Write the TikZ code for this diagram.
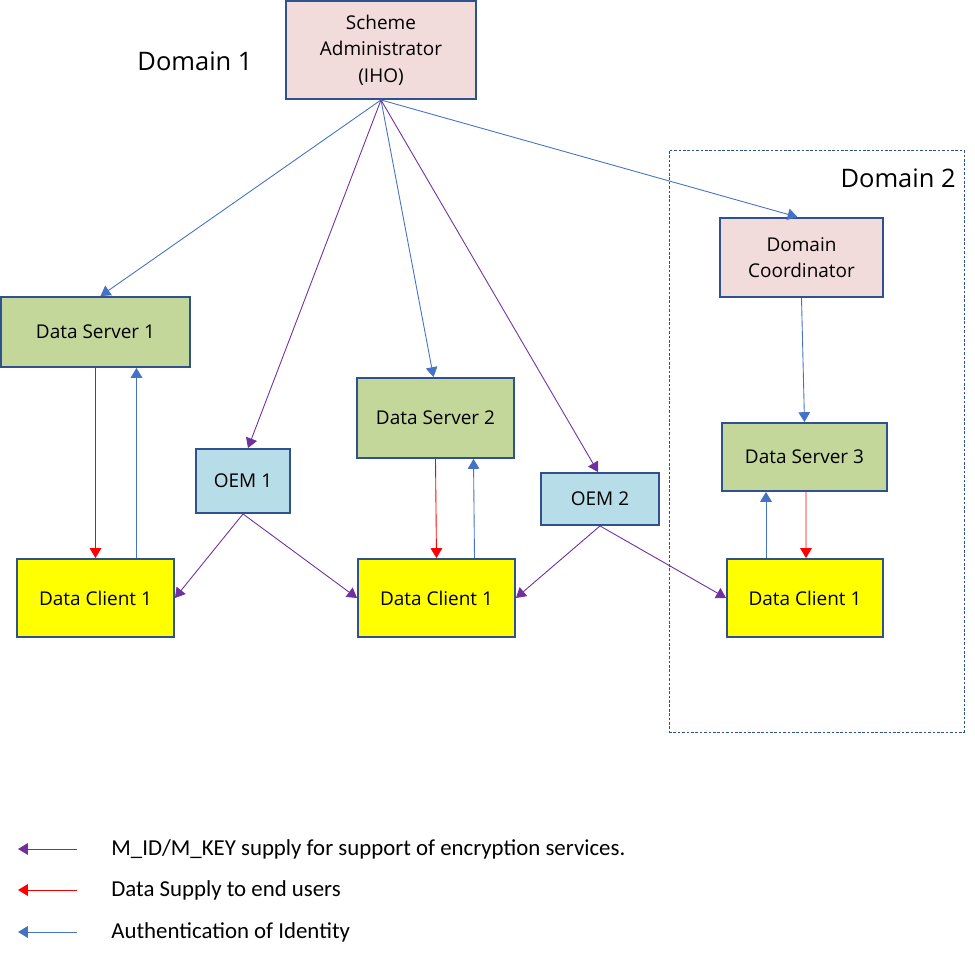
\documentclass[tikz,border=0pt]{standalone}
\usepackage{fontspec}
\setmainfont{Open Sans}
\newfontfamily\legendfont{Carlito}
\usetikzlibrary{arrows.meta}
\usetikzlibrary{calc}

\begin{document}
\begin{tikzpicture}[x=0.02cm,y=-0.02cm,
    box/.style={
      draw=boxline,
      line width=1.1pt,
      align=center,
      inner sep=0pt,
      font=\fontsize{10.8}{15}\selectfont
    },
    legend/.style={anchor=west,inner sep=0pt,font=\legendfont\fontsize{13}{15}\selectfont},
    auth/.style={-{Triangle[width=6.6pt,length=5.6pt]},line width=0.5pt,authblue},
    supply/.style={-{Triangle[width=6.6pt,length=5.6pt]},line width=0.5pt,supplyred},
    mkey/.style={-{Triangle[width=6.6pt,length=5.6pt]},line width=0.5pt,mkeypurple}]

\definecolor{boxline}{RGB}{47,82,143}
\definecolor{lpink}{RGB}{242,220,219}
\definecolor{lgreen}{RGB}{196,215,155}
\definecolor{lblue}{RGB}{183,221,232}
\definecolor{lyellow}{RGB}{255,255,0}
\definecolor{authblue}{RGB}{68,114,196}
\definecolor{supplyred}{RGB}{255,0,0}
\definecolor{mkeypurple}{RGB}{112,48,160}

\useasboundingbox (0,0) rectangle (975,959);

% domain 2 frame
\node[draw=boxline,dashed,dash pattern=on 1.5pt off 1pt,line width=0.5pt,minimum width=5.9cm,minimum height=11.64cm] (dom2) at (816.5,441) {};
\node[font=\fontsize{14.5}{16}\selectfont,inner sep=0pt,anchor=east] (d2lbl) at (956,178) {Domain 2};
\node[font=\fontsize{14.5}{16}\selectfont,inner sep=0pt] (d1lbl) at (195,61) {Domain 1};

\node[box,fill=lpink,minimum width=3.8cm,minimum height=1.96cm] (sa) at (381,50) {Scheme\\Administrator\\(IHO)};
\node[box,fill=lpink,minimum width=3.26cm,minimum height=1.58cm] (dc) at (801.5,257.5) {Domain\\Coordinator};

\node[box,fill=lgreen,minimum width=3.78cm,minimum height=1.4cm] (ds1) at (95.5,332) {Data Server 1};
\node[box,fill=lgreen,minimum width=3.14cm,minimum height=1.6cm] (ds2) at (435.5,418) {Data Server 2};
\node[box,fill=lgreen,minimum width=3.3cm,minimum height=1.36cm] (ds3) at (804.5,457) {Data Server 3};

\node[box,fill=lblue,minimum width=1.88cm,minimum height=1.28cm] (oem1) at (243,481) {OEM 1};
\node[box,fill=lblue,minimum width=2.36cm,minimum height=1.04cm] (oem2) at (600,499) {OEM 2};

\node[box,fill=lyellow,minimum width=3.14cm,minimum height=1.56cm] (cl1) at (95.5,598) {Data Client 1};
\node[box,fill=lyellow,minimum width=3.14cm,minimum height=1.56cm] (cl2) at (436.5,598) {Data Client 1};
\node[box,fill=lyellow,minimum width=3.12cm,minimum height=1.56cm] (cl3) at (805,598) {Data Client 1};

\draw[auth] (sa.south) -- ($(ds1.north)+(5,0)$);
\draw[mkey] (sa.south) -- ($(oem1.north)+(5,0)$);
\draw[auth] (sa.south) -- ($(ds2.north)+(-2,0)$);
\draw[mkey] (sa.south) -- ($(oem2.north)+(-2,0)$);
\draw[auth] (sa.south) -- ($(dc.north)+(-4,0)$);
\draw[auth] (dc.south) -- (ds3.north);

\draw[supply] (ds1.south) -- (cl1.north);
\draw[auth] ($(cl1.north)+(41,0)$) -- ($(ds1.south)+(41,0)$);
\draw[supply] (ds2.south) -- (cl2.north);
\draw[auth] ($(cl2.north)+(38,0)$) -- ($(ds2.south)+(38,0)$);
\draw[supply] ($(ds3.south)+(1.5,0)$) -- ($(cl3.north)+(1,0)$);
\draw[auth] ($(cl3.north)+(-39,0)$) -- ($(ds3.south)+(-38.5,0)$);

\draw[mkey] (oem1.south) -- (cl1.east);
\draw[mkey] (oem1.south) -- (cl2.west);
\draw[mkey] (oem2.south) -- (cl2.east);
\draw[mkey] (oem2.south) -- (cl3.west);

% legend
\node[legend] (lt1) at (111,849) {M\_ID/M\_KEY supply for support of encryption services.};
\node[legend] (lt2) at (111,890) {Data Supply to end users};
\node[legend] (lt3) at (111,932) {Authentication of Identity};
\coordinate (lk1) at (18,849);
\coordinate (lk2) at (18,890);
\coordinate (lk3) at (18,932);
\draw[mkey] ($(lt1.west)+(-34,0)$) -- (lk1);
\draw[supply] ($(lt2.west)+(-34,0)$) -- (lk2);
\draw[auth] ($(lt3.west)+(-34,0)$) -- (lk3);

\end{tikzpicture}
\end{document}
